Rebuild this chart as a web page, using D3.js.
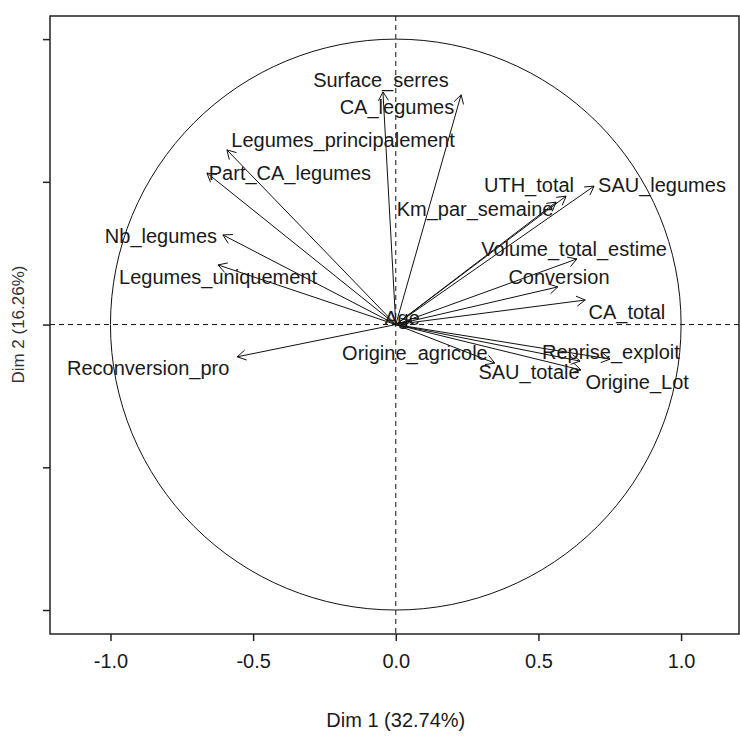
<!DOCTYPE html>
<html><head><meta charset="utf-8">
<script src="https://cdn.jsdelivr.net/npm/d3@7"></script>
<style>body{margin:0;background:#fff}svg{display:block}text{font-family:"Liberation Sans",Arial,sans-serif}</style>
</head><body>
<svg id="c" width="740" height="742"></svg>
<script>
// Variables and their coordinates on Dim 1 / Dim 2 (correlation circle)
const variables = ["Surface_serres","CA_legumes","Legumes_principalement","Part_CA_legumes","Nb_legumes","Legumes_uniquement","Reconversion_pro","Km_par_semaine","UTH_total","SAU_legumes","Volume_total_estime","Conversion","CA_total","Reprise_exploit","SAU_totale","Origine_Lot","Origine_agricole","Age"];
const dim1 = [-0.045,0.229,-0.592,-0.662,-0.606,-0.623,-0.556,0.562,0.597,0.695,0.635,0.568,0.664,0.751,0.649,0.646,0.347,0.050];
const dim2 = [0.815,0.805,0.612,0.531,0.314,0.209,-0.113,0.429,0.450,0.485,0.230,0.132,0.086,-0.121,-0.159,-0.128,-0.135,0.013];
// label anchor (centre) in the same data units, after label repulsion
const labelX = [-0.052,0.004,-0.185,-0.371,-0.823,-0.623,-0.868,0.278,0.467,0.933,0.625,0.572,0.810,0.754,0.467,0.846,0.067,0.022];
const labelY = [0.856,0.762,0.646,0.530,0.310,0.167,-0.152,0.405,0.489,0.489,0.265,0.167,0.044,-0.096,-0.166,-0.201,-0.100,0.023];
const xTicks = [-1.0,-0.5,0.0,0.5,1.0];
const yTicks = [-1.0,-0.5,0.0,0.5,1.0];
const xTitle = "Dim 1 (32.74%)";
const yTitle = "Dim 2 (16.26%)";

const svg = d3.select("#c");
const L = 50, R = 739, T = 16, B = 634;
const x = d3.scaleLinear().domain([-1.212, 1.203]).range([L, R]);
const y = d3.scaleLinear().domain([-1.084, 1.081]).range([B, T]);
const ink = "#111";

// circle
svg.append("ellipse").attr("cx", x(0)).attr("cy", y(0))
  .attr("rx", x(1) - x(0)).attr("ry", y(0) - y(1))
  .attr("fill", "none").attr("stroke", ink).attr("stroke-width", 1);

// dashed reference lines
svg.append("line").attr("x1", L).attr("x2", R).attr("y1", y(0)).attr("y2", y(0))
  .attr("stroke", ink).attr("stroke-dasharray", "5,4");
svg.append("line").attr("x1", x(0)).attr("x2", x(0)).attr("y1", T).attr("y2", B)
  .attr("stroke", ink).attr("stroke-dasharray", "5,4");

// arrows
const data = variables.map((v, i) => ({v, a: dim1[i], b: dim2[i], lx: labelX[i], ly: labelY[i]}));
const g = svg.append("g").attr("stroke", ink).attr("stroke-width", 1).attr("fill", "none");
const hl = 10, ang = Math.PI / 6;
data.forEach(d => {
  const x0 = x(0), y0 = y(0), x1 = x(d.a), y1 = y(d.b);
  g.append("line").attr("x1", x0).attr("y1", y0).attr("x2", x1).attr("y2", y1);
  const th = Math.atan2(y1 - y0, x1 - x0);
  const p1 = [x1 - hl * Math.cos(th - ang), y1 - hl * Math.sin(th - ang)];
  const p2 = [x1 - hl * Math.cos(th + ang), y1 - hl * Math.sin(th + ang)];
  g.append("path").attr("d", `M${p1[0]},${p1[1]}L${x1},${y1}L${p2[0]},${p2[1]}`);
});

// labels
svg.append("g").selectAll("text").data(data).join("text")
  .attr("x", d => x(d.lx)).attr("y", d => y(d.ly))
  .attr("text-anchor", "middle").attr("dominant-baseline", "central")
  .attr("font-size", 20).attr("fill", "#1a1a1a").text(d => d.v);

// box
svg.append("rect").attr("x", L).attr("y", T).attr("width", R - L).attr("height", B - T)
  .attr("fill", "none").attr("stroke", "#222").attr("stroke-width", 1.5);

// axes
const xa = svg.append("g").attr("transform", `translate(0,${B})`)
  .call(d3.axisBottom(x).tickValues(xTicks).tickFormat(d => d.toFixed(1)).tickSize(7).tickPadding(13));
xa.select(".domain").remove();
xa.selectAll("line").attr("stroke", "#222").attr("stroke-width", 1.5);
xa.selectAll("text").attr("font-size", 20).attr("fill", "#1a1a1a").attr("font-family", '"Liberation Sans",Arial,sans-serif');

const ya = svg.append("g").attr("transform", `translate(${L},0)`)
  .call(d3.axisLeft(y).tickValues(yTicks).tickFormat("").tickSize(7));
ya.select(".domain").remove();
ya.selectAll("line").attr("stroke", "#222").attr("stroke-width", 1.5);

svg.append("text").attr("x", (x(0))).attr("y", 720).attr("text-anchor", "middle")
  .attr("dominant-baseline", "central").attr("font-size", 20).attr("fill", "#1a1a1a").text(xTitle);
svg.append("text").attr("transform", `translate(18,${y(0)}) rotate(-90)`).attr("text-anchor", "middle")
  .attr("dominant-baseline", "central").attr("font-size", 17).attr("fill", "#333").text(yTitle);
</script>
</body></html>
